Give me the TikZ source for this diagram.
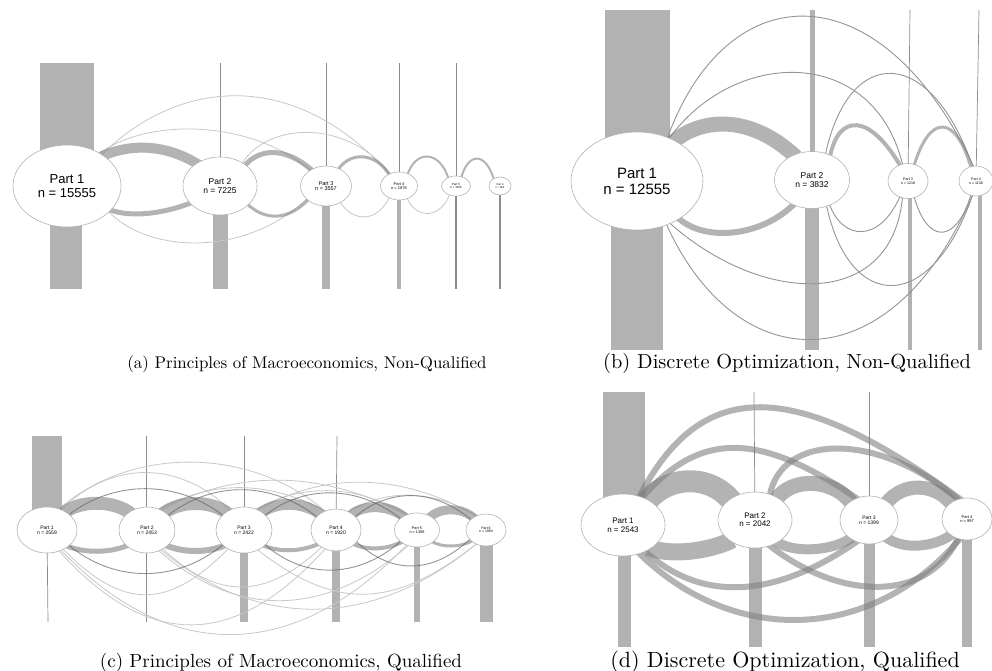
\documentclass[tikz,border=0pt]{standalone}
\usepackage{fontspec}
\newfontfamily\nodefont{Liberation Sans}
\newfontfamily\capfont[Extension=.otf]{lmroman10-regular}
\usetikzlibrary{shapes.geometric}
\pgfdeclarelayer{bg}
\pgfsetlayers{bg,main}
\tikzset{
  part/.style={ellipse, draw=black!30, line width=0.6pt, fill=white, inner sep=0pt, align=center},
  fs/.style={font=\nodefont\fontsize{#1}{#1}\selectfont},
  barfill/.style={fill=black!30, draw=none},
  stem/.style={draw=black!45, line width=0.7pt},
  fl/.style={draw=black!50, draw opacity=0.6, shorten <=-3pt, shorten >=-3pt},
  larc/.style={draw=black!22, line width=0.8pt, shorten <=-2pt, shorten >=-2pt},
  darc/.style={draw=black!60, draw opacity=0.7, line width=0.9pt, shorten <=-2pt, shorten >=-2pt},
  barc/.style={draw=black!42, line width=0.9pt, shorten <=-2pt, shorten >=-2pt},
  capt/.style={anchor=base, inner sep=0pt},
  cfs/.style={font=\capfont\fontsize{#1}{#1}\selectfont}
}
\begin{document}
\begin{tikzpicture}[x=1pt,y=-1pt]
\useasboundingbox (0,0) rectangle (992,671);
% ================= (a) =================
\node[part, minimum width=108, minimum height=82, fs=13] (a1) at (67,186) {Part 1\\[1pt]n = 15555};
\node[part, minimum width=74, minimum height=58, fs=8.5] (a2) at (220,186) {Part 2\\n = 7225};
\node[part, minimum width=51, minimum height=40, fs=5.5] (a3) at (326,186) {Part 3\\n = 3557};
\node[part, minimum width=37, minimum height=28, fs=4] (a4) at (399,186) {Part 4\\n = 1876};
\node[part, minimum width=29, minimum height=20, fs=3] (a5) at (456,186) {Part 5\\n = 1165};
\node[part, minimum width=22, minimum height=18, fs=2.6] (a6) at (500,186) {Part 6\\n = 882};
\begin{pgfonlayer}{bg}
\fill[barfill] (40,63) rectangle (94,186);
\fill[barfill] (50,186) rectangle (82,289);
\draw[stem] (220,63) -- (a2.center);
\fill[barfill] (213,186) rectangle (228,289);
\draw[stem] (326,63) -- (a3.center);
\fill[barfill] (322,186) rectangle (329.5,289);
\draw[stem] (399,63) -- (a4.center);
\fill[barfill] (397.3,186) rectangle (401.3,289);
\draw[stem] (456,63) -- (a5.center);
\draw[stem, line width=1.3pt] (a5.center) -- (456,289);
\draw[stem, line width=1.3pt] (a6.center) -- (500,289);
\draw[larc] (a1.42) .. controls +(80,-80) and +(-90,-103) .. (a4.129);
\draw[larc] (a1.45) .. controls +(45,-35) and +(-60,-52) .. (a3.135);
\draw[larc] (a2.46) .. controls +(22,-39) and +(-45,-57) .. (a4.125);
\draw[larc] (a1.-32) .. controls +(40,42) and +(-60,58) .. (a3.-146);
\draw[larc] (a3.-49) .. controls +(12,20) and +(-12,25) .. (a4.-129);
\draw[larc] (a4.-57) .. controls +(8,21) and +(-8,24) .. (a5.-126);
\draw[fl, line width=10pt] (a1.40) .. controls +(22,-10) and +(-35,-22) .. (a2.136);
\draw[fl, line width=5pt] (a1.-29) .. controls +(20,8) and +(-25,10) .. (a2.-150);
\draw[fl, line width=5pt] (a2.40) .. controls +(13,-17) and +(-25,-23) .. (a3.132);
\draw[fl, line width=3pt] (a2.-34) .. controls +(17,17) and +(-18,20) .. (a3.-142);
\draw[fl, line width=3pt] (a3.54) .. controls +(10,-17) and +(-13,-23) .. (a4.130);
\draw[fl, line width=2pt] (a4.55) .. controls +(7,-24) and +(-8,-28) .. (a5.132);
\draw[fl, line width=2pt] (a5.60) .. controls +(6,-25) and +(-7,-27) .. (a6.130);
\end{pgfonlayer}
\node[capt, cfs=16.9] (capa) at (307,368) {(a) Principles of Macroeconomics, Non-Qualified};
% ================= (b) =================
\node[part, minimum width=132, minimum height=98, fs=15] (b1) at (637,181) {Part 1\\[1pt]n = 12555};
\node[part, minimum width=75, minimum height=57, fs=8.5] (b2) at (812,180) {Part 2\\n = 3832};
\node[part, minimum width=40, minimum height=35, fs=3.6] (b3) at (908,181) {Part 3\\n = 1218};
\node[part, minimum width=34, minimum height=30, fs=3.6] (b4) at (976,181) {Part 4\\n = 1130};
\begin{pgfonlayer}{bg}
\fill[barfill] (605,10) rectangle (670,181);
\fill[barfill] (611,181) rectangle (663,350);
\fill[barfill] (810,10) rectangle (815,180);
\fill[barfill] (805,180) rectangle (819,350);
\draw[stem] (910,10) -- (b3.center);
\fill[barfill] (908,181) rectangle (912,350);
\draw[stem] (979,10) -- (b4.center);
\fill[barfill] (977.5,181) rectangle (981.5,350);
\draw[barc] (b1.55) .. controls +(60,-166) and +(-91,-196) .. (b4.100);
\draw[barc] (b1.53) .. controls +(65,-91) and +(-28,-119) .. (b3.108);
\draw[barc] (b1.-56) .. controls +(70,156) and +(-81,189) .. (b4.-104);
\draw[barc] (b1.-52) .. controls +(90,81) and +(-10,114) .. (b3.-108);
\draw[barc] (b2.63) .. controls +(23,-109) and +(-42,-122) .. (b4.103);
\draw[barc] (b2.-61) .. controls +(23,108) and +(-40,118) .. (b4.-104);
\draw[barc] (b2.-55) .. controls +(13,36) and +(-20,46) .. (b3.-117);
\draw[barc] (b3.-69) .. controls +(13,48) and +(-14,48) .. (b4.-110);
\draw[fl, line width=15pt] (b1.47) .. controls +(25,-22) and +(-45,-42) .. (b2.126);
\draw[fl, line width=6pt] (b1.-42) .. controls +(23,23) and +(-32,33) .. (b2.-127);
\draw[fl, line width=4pt] (b2.54) .. controls +(8,-42) and +(-30,-52) .. (b3.117);
\draw[fl, line width=3pt] (b3.69) .. controls +(15,-51) and +(-15,-53) .. (b4.110);
\end{pgfonlayer}
\node[capt, cfs=20.4] (capb) at (787,368) {(b) Discrete Optimization, Non-Qualified};
% ================= (c) =================
\node[part, minimum width=60, minimum height=46, fs=5] (c1) at (47,530) {Part 1\\n = 2559};
\node[part, minimum width=56, minimum height=46, fs=5] (c2) at (147,530) {Part 2\\n = 2453};
\node[part, minimum width=56, minimum height=46, fs=5] (c3) at (244,530) {Part 3\\n = 2422};
\node[part, minimum width=50, minimum height=42, fs=5] (c4) at (336,530) {Part 4\\n = 1920};
\node[part, minimum width=45, minimum height=34, fs=3.8] (c5) at (417,530) {Part 5\\n = 1398};
\node[part, minimum width=40, minimum height=32, fs=3.5] (c6) at (486,530) {Part 6\\n = 1094};
\begin{pgfonlayer}{bg}
\fill[barfill] (32,436) rectangle (62,530);
\draw[stem] (c1.center) -- (48,622);
\draw[stem] (146,436) -- (146,622);
\draw[stem] (244,436) -- (c3.center);
\fill[barfill] (240,530) rectangle (248,622);
\draw[stem] (337,436) -- (c4.center);
\fill[barfill] (332,530) rectangle (340,622);
\fill[barfill] (414,530) rectangle (420,622);
\fill[barfill] (480,530) rectangle (493,622);
% light arcs
\draw[larc] (c1.60) .. controls +(71,-63) and +(-75,-65) .. (c4.120);
\draw[larc] (c1.55) .. controls +(50,-50) and +(-50,-50) .. (c3.125);
\draw[larc] (c2.55) .. controls +(80,-43) and +(-80,-43) .. (c5.125);
\draw[larc] (c2.60) .. controls +(55,-30) and +(-55,-30) .. (c4.120);
\draw[larc] (c3.55) .. controls +(70,-41) and +(-70,-41) .. (c6.125);
\draw[larc] (c3.60) .. controls +(50,-28) and +(-50,-28) .. (c5.120);
\draw[larc] (c4.55) .. controls +(40,-25) and +(-40,-25) .. (c6.125);
\draw[larc] (c1.-55) .. controls +(110,116) and +(-110,116) .. (c5.-125);
\draw[larc] (c1.-60) .. controls +(90,100) and +(-90,100) .. (c4.-120);
\draw[larc] (c1.-50) .. controls +(60,61) and +(-60,61) .. (c3.-130);
\draw[larc] (c2.-55) .. controls +(100,83) and +(-100,83) .. (c6.-125);
\draw[larc] (c2.-60) .. controls +(80,70) and +(-80,70) .. (c5.-120);
\draw[larc] (c3.-55) .. controls +(80,63) and +(-80,63) .. (c6.-125);
\draw[larc] (c2.-50) .. controls +(55,52) and +(-55,52) .. (c4.-130);
% bands
\draw[fl, line width=13pt] (c1.45) .. controls +(15,-12) and +(-15,-12) .. (c2.135);
\draw[fl, line width=13pt] (c2.45) .. controls +(15,-12) and +(-15,-12) .. (c3.135);
\draw[fl, line width=11pt] (c3.45) .. controls +(15,-12) and +(-15,-12) .. (c4.135);
\draw[fl, line width=10pt] (c4.45) .. controls +(12,-11) and +(-12,-11) .. (c5.135);
\draw[fl, line width=9pt] (c5.45) .. controls +(9,-10) and +(-9,-10) .. (c6.135);
\draw[fl, line width=5pt] (c1.-38) .. controls +(15,7) and +(-15,7) .. (c2.-142);
\draw[fl, line width=6pt] (c2.-38) .. controls +(15,7) and +(-15,7) .. (c3.-142);
\draw[fl, line width=4pt] (c3.-38) .. controls +(15,7) and +(-15,7) .. (c4.-142);
\draw[fl, line width=4pt] (c4.-38) .. controls +(12,7) and +(-12,7) .. (c5.-142);
\draw[fl, line width=3pt] (c5.-38) .. controls +(9,6) and +(-9,6) .. (c6.-142);
% darker arcs
\draw[darc] (c1.35) .. controls +(45,-35) and +(-45,-35) .. (c3.145);
\draw[darc] (c2.35) .. controls +(45,-35) and +(-45,-35) .. (c4.145);
\draw[darc] (c3.35) .. controls +(40,-32) and +(-40,-32) .. (c5.145);
\draw[darc] (c4.35) .. controls +(35,-30) and +(-35,-30) .. (c6.145);
\draw[darc] (c1.-35) .. controls +(45,38) and +(-45,38) .. (c3.-145);
\draw[darc] (c3.-35) .. controls +(40,36) and +(-40,36) .. (c5.-145);
\draw[darc] (c4.-30) .. controls +(35,34) and +(-35,34) .. (c6.-150);
\end{pgfonlayer}
\node[capt, cfs=19] (capc) at (281,667) {(c) Principles of Macroeconomics, Qualified};
% ================= (d) =================
\node[part, minimum width=84, minimum height=62, fs=8] (d1) at (623,525) {Part 1\\[1pt]n = 2543};
\node[part, minimum width=74, minimum height=56, fs=8] (d2) at (755,520) {Part 2\\n = 2042};
\node[part, minimum width=58, minimum height=48, fs=5] (d3) at (869,520) {Part 3\\n = 1399};
\node[part, minimum width=50, minimum height=42, fs=4] (d4) at (967,519) {Part 4\\n = 997};
\begin{pgfonlayer}{bg}
\fill[barfill] (603,392) rectangle (645,525);
\fill[barfill] (618,525) rectangle (631,647);
\draw[stem] (754,392) -- (d2.center);
\fill[barfill] (749,520) rectangle (762,647);
\draw[stem] (869,392) -- (d3.center);
\fill[barfill] (864,520) rectangle (875,647);
\fill[barfill] (962,519) rectangle (972,647);
\draw[fl, line width=22pt] (d1.45) .. controls +(20,-25) and +(-20,-25) .. (d2.140);
\draw[fl, line width=17pt] (d1.-40) .. controls +(20,8) and +(-20,10) .. (d2.-140);
\draw[fl, line width=15pt] (d2.45) .. controls +(15,-22) and +(-15,-22) .. (d3.135);
\draw[fl, line width=10pt] (d2.-45) .. controls +(15,12) and +(-15,12) .. (d3.-135);
\draw[fl, line width=14pt] (d3.45) .. controls +(15,-20) and +(-15,-20) .. (d4.135);
\draw[fl, line width=10pt] (d3.-45) .. controls +(15,12) and +(-15,12) .. (d4.-135);
\draw[fl, line width=6pt] (d1.60) .. controls +(61,-120) and +(-166,-122) .. (d4.110);
\draw[fl, line width=6pt] (d1.55) .. controls +(57,-67) and +(-97,-67) .. (d3.120);
\draw[fl, line width=6pt] (d2.60) .. controls +(10,-62) and +(-78,-68) .. (d4.115);
\draw[fl, line width=6pt] (d1.-60) .. controls +(91,91) and +(-90,106) .. (d4.-110);
\draw[fl, line width=6pt] (d1.-50) .. controls +(53,50) and +(-84,59) .. (d3.-120);
\draw[fl, line width=6pt] (d2.-60) .. controls +(70,56) and +(-28,64) .. (d4.-115);
\end{pgfonlayer}
\node[capt, cfs=22] (capd) at (785,667) {(d) Discrete Optimization, Qualified};
\end{tikzpicture}
\end{document}
